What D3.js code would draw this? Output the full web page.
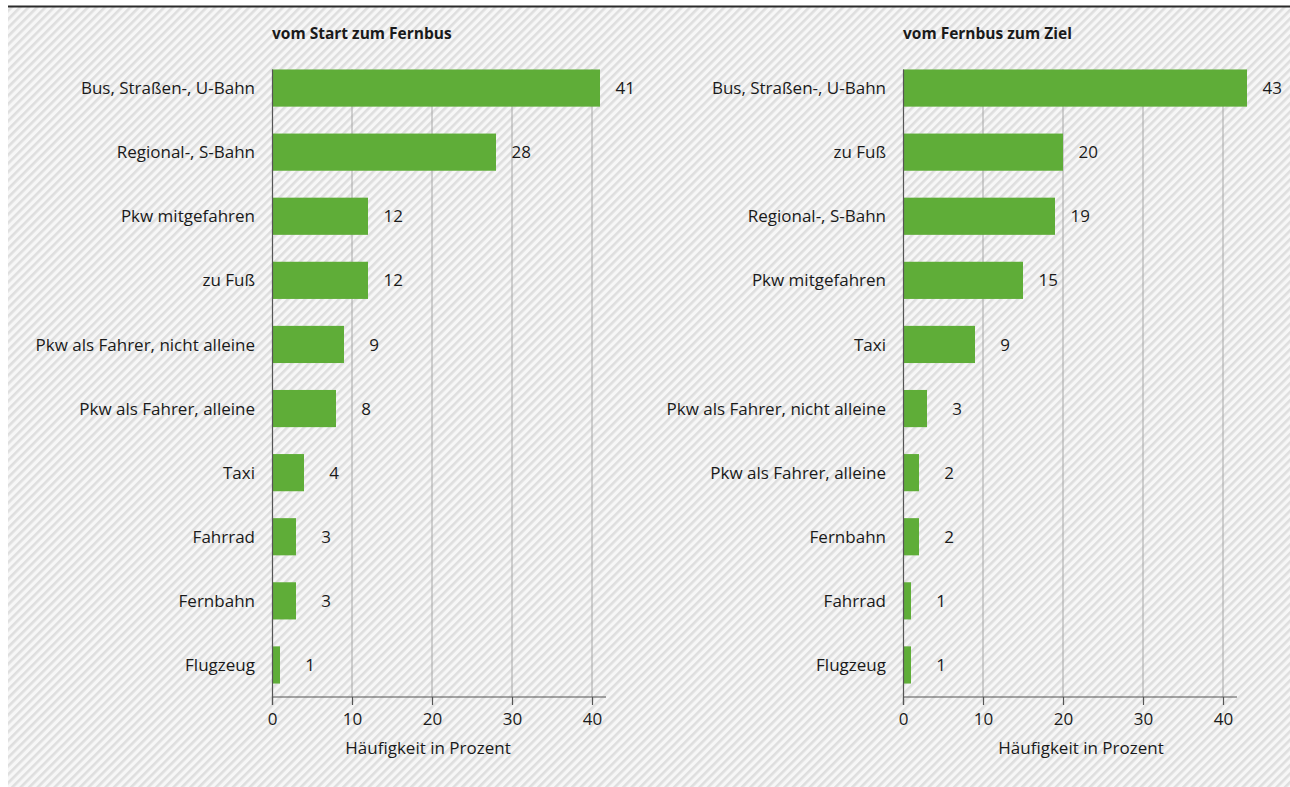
<!DOCTYPE html>
<html>
<head>
<meta charset="utf-8">
<script src="https://cdn.jsdelivr.net/npm/d3@7"></script>
<style>
  html, body { margin: 0; padding: 0; background: #ffffff; }
  svg { display: block; }
  text { font-family: "Open Sans", "Noto Sans", sans-serif; fill: #1a1a1a; }
</style>
</head>
<body>
<svg id="chart" width="1290" height="787"></svg>
<script>
// Verkehrsmittel auf dem Weg zum bzw. vom Fernbus (Anteile in Prozent)
const startCategories = ["Bus, Straßen-, U-Bahn", "Regional-, S-Bahn", "Pkw mitgefahren", "zu Fuß",
  "Pkw als Fahrer, nicht alleine", "Pkw als Fahrer, alleine", "Taxi", "Fahrrad", "Fernbahn", "Flugzeug"];
const startValues = [41, 28, 12, 12, 9, 8, 4, 3, 3, 1];

const zielCategories = ["Bus, Straßen-, U-Bahn", "zu Fuß", "Regional-, S-Bahn", "Pkw mitgefahren", "Taxi",
  "Pkw als Fahrer, nicht alleine", "Pkw als Fahrer, alleine", "Fernbahn", "Fahrrad", "Flugzeug"];
const zielValues = [43, 20, 19, 15, 9, 3, 2, 2, 1, 1];

const panelTitles = ["vom Start zum Fernbus", "vom Fernbus zum Ziel"];
const xTicks = [0, 10, 20, 30, 40];
const axisTitle = "Häufigkeit in Prozent";

const svg = d3.select("#chart");
const W = 1290, H = 787;

// hatched background
const defs = svg.append("defs");
const pat = defs.append("pattern")
  .attr("id", "hatch")
  .attr("patternUnits", "userSpaceOnUse")
  .attr("width", 6).attr("height", 6)
  .attr("patternTransform", "rotate(45)");
pat.append("rect").attr("width", 6).attr("height", 6).attr("fill", "#f7f7f7");
pat.append("rect").attr("x", 0).attr("width", 2.6).attr("height", 6).attr("fill", "#dedede");

svg.append("rect").attr("x", 8).attr("y", 7).attr("width", W - 8).attr("height", H - 7)
  .attr("fill", "url(#hatch)");
svg.append("line").attr("x1", 8).attr("x2", W).attr("y1", 6.5).attr("y2", 6.5)
  .attr("stroke", "#2b2b2b").attr("stroke-width", 2);

const panels = [
  { cats: startCategories, vals: startValues, left: 272, title: panelTitles[0], titleShift: -11 },
  { cats: zielCategories, vals: zielValues, left: 903, title: panelTitles[1], titleShift: 11 }
];

const plotTop = 56, plotBottom = 697;
const fs = 17;

panels.forEach(p => {
  const x = d3.scaleLinear().domain([0, 41.75]).range([p.left, p.left + 334]);
  const y = d3.scaleBand().domain(p.cats).range([plotTop, plotBottom]).paddingInner(0.42).paddingOuter(0.21);
  const g = svg.append("g");

  g.append("text")
    .attr("x", p.left).attr("y", 39)
    .attr("font-size", 15.5).attr("font-weight", "bold")
    .text(p.title);

  // vertical gridlines
  const gridTop = y(p.cats[0]);
  g.selectAll("line.grid").data(xTicks.slice(1)).join("line")
    .attr("x1", d => x(d)).attr("x2", d => x(d))
    .attr("y1", gridTop).attr("y2", plotBottom)
    .attr("stroke", "#a8a8a8").attr("stroke-width", 1);

  // bars
  g.selectAll("rect.bar").data(p.vals).join("rect")
    .attr("x", x(0))
    .attr("y", (d, i) => y(p.cats[i]))
    .attr("width", d => x(d) - x(0))
    .attr("height", y.bandwidth())
    .attr("fill", "#5fad38");

  // value labels, right-aligned a fixed distance past the bar end
  g.selectAll("text.val").data(p.vals).join("text")
    .attr("x", d => x(d) + 35)
    .attr("y", (d, i) => y(p.cats[i]) + y.bandwidth() / 2)
    .attr("dy", "0.36em")
    .attr("text-anchor", "end")
    .attr("font-size", fs)
    .text(d => d);

  // category labels
  g.selectAll("text.cat").data(p.cats).join("text")
    .attr("x", p.left - 17)
    .attr("y", d => y(d) + y.bandwidth() / 2)
    .attr("dy", "0.36em")
    .attr("text-anchor", "end")
    .attr("font-size", fs)
    .text(d => d);

  // y axis line
  g.append("line")
    .attr("x1", x(0) + 0.5).attr("x2", x(0) + 0.5)
    .attr("y1", gridTop).attr("y2", plotBottom + 8)
    .attr("stroke", "#555").attr("stroke-width", 1.2);

  // x axis
  const xAxis = d3.axisBottom(x).tickValues(xTicks).tickSize(8).tickPadding(8).tickSizeOuter(0);
  const ax = g.append("g").attr("transform", `translate(0,${plotBottom})`).call(xAxis);
  ax.select(".domain").remove();
  ax.append("line").attr("x1", x(0)).attr("x2", x(41.75)).attr("y1", 0).attr("y2", 0)
    .attr("stroke", "#555").attr("stroke-width", 1.2);
  ax.selectAll(".tick line").attr("stroke", "#555").attr("stroke-width", 1.2);
  ax.selectAll(".tick text").attr("font-size", fs).attr("fill", "#1a1a1a")
    .attr("font-family", "'Open Sans', 'Noto Sans', sans-serif");

  g.append("text")
    .attr("x", (x(0) + x(41.75)) / 2 + p.titleShift).attr("y", plotBottom + 57)
    .attr("text-anchor", "middle")
    .attr("font-size", fs)
    .text(axisTitle);
});
</script>
</body>
</html>
